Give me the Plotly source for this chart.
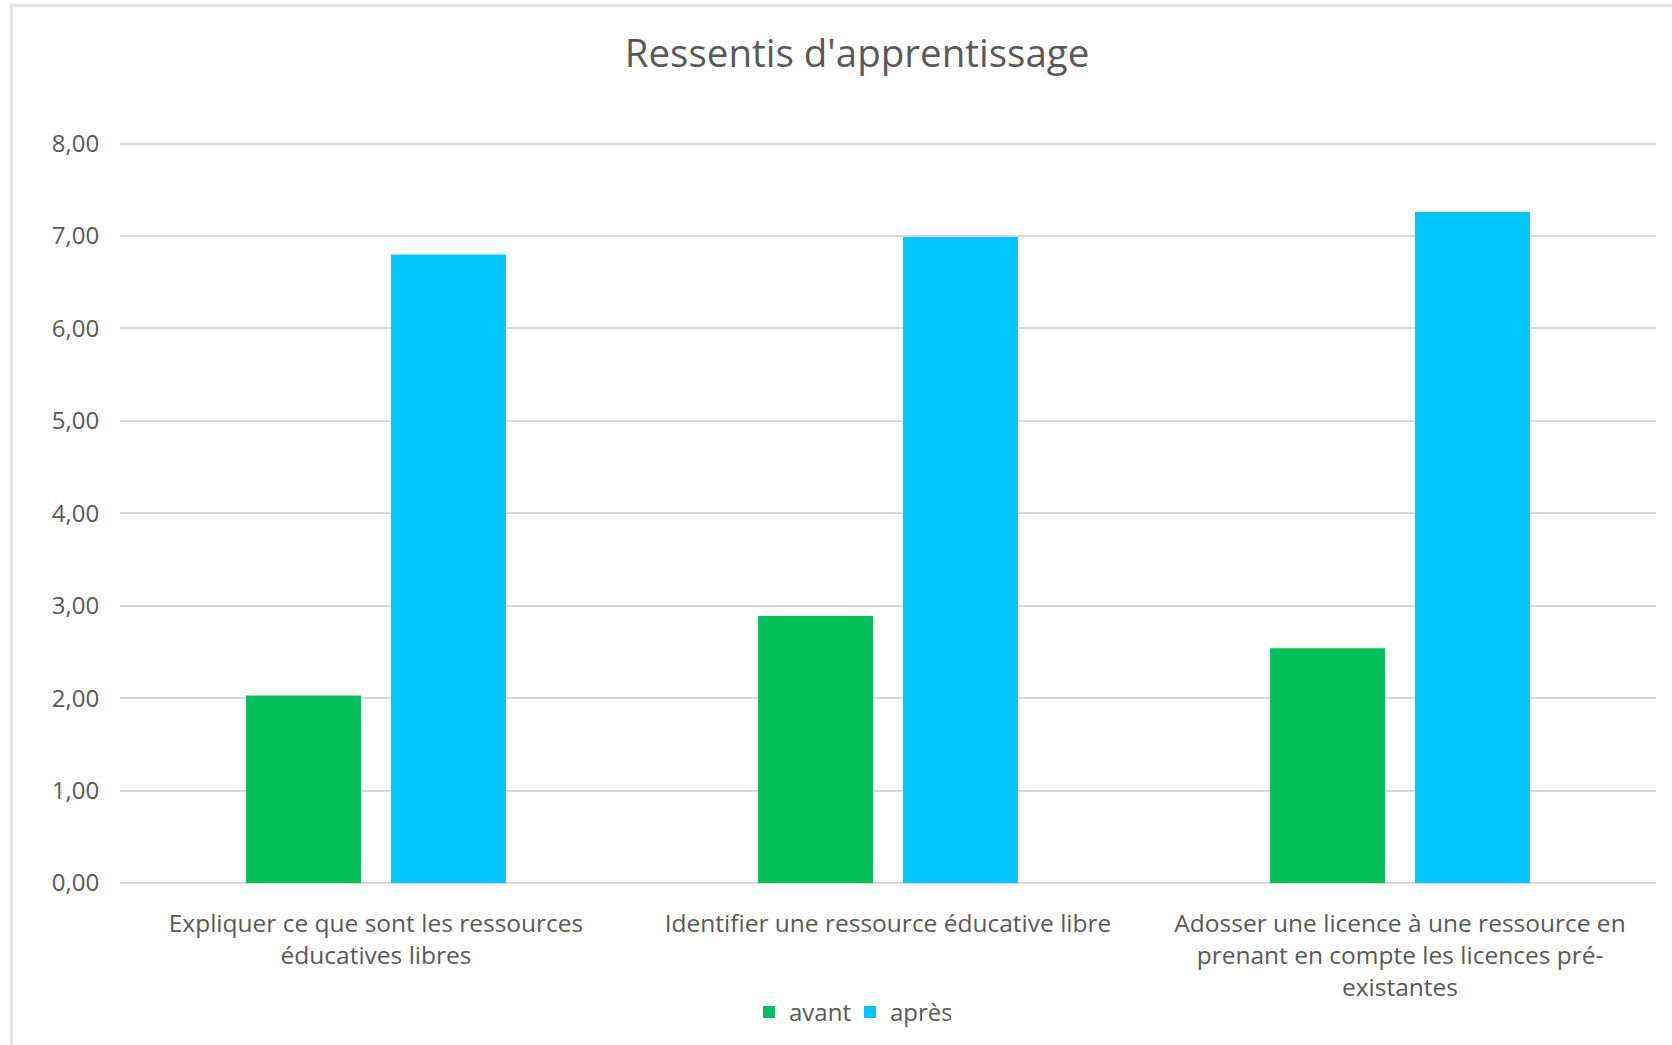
import plotly.graph_objects as go

categories = [
    "Expliquer ce que sont les ressources<br>éducatives libres",
    "Identifier une ressource éducative libre",
    "Adosser une licence à une ressource en<br>prenant en compte les licences pré-<br>existantes",
]
avant = [2.03, 2.89, 2.54]
apres = [6.80, 6.99, 7.26]
series_names = ["avant", "après"]
tick_values = [0, 1, 2, 3, 4, 5, 6, 7, 8]
tick_labels = ["0,00", "1,00", "2,00", "3,00", "4,00", "5,00", "6,00", "7,00", "8,00"]
title_text = "Ressentis d'apprentissage"

W, H = 1672, 1045
Y_MAX = 8.05
UNIT = 92.4
ML, MR = 120, 16
MB = H - 882.7
MT = H - MB - Y_MAX * UNIT
PW, PH = W - ML - MR, H - MT - MB

GREEN = "#03C05B"
BLUE = "#00C5FF"
TEXT = "#595959"
GRID = "#D9D9D9"
FONT = "'Open Sans', Lato, sans-serif"

fig = go.Figure()
fig.add_trace(go.Bar(x=categories, y=avant, name=series_names[0], marker=dict(color=GREEN, line=dict(width=0))))
fig.add_trace(go.Bar(x=categories, y=apres, name=series_names[1], marker=dict(color=BLUE, line=dict(width=0))))

def px_x(p):
    return (p - ML) / PW

def px_y(p):
    return (H - MB - p) / PH

fig.update_layout(
    width=W, height=H,
    margin=dict(l=ML, r=MR, t=MT, b=MB, autoexpand=False),
    paper_bgcolor="white", plot_bgcolor="white",
    barmode="group", bargap=0.434, bargroupgap=0.207,
    font=dict(family=FONT, color=TEXT, size=24),
    title=dict(text=title_text, x=857 / W, xref="container", xanchor="center",
               y=1 - 54 / H, yref="container", yanchor="middle",
               font=dict(family=FONT, size=38.5, color=TEXT)),
    showlegend=True,
    legend=dict(orientation="h", x=px_x(749), xanchor="left", y=px_y(1012), yanchor="middle",
                font=dict(family=FONT, size=24, color=TEXT), itemwidth=30,
                entrywidth=56, entrywidthmode="pixels", traceorder="normal"),
    shapes=[dict(type="rect", xref="paper", yref="paper",
                 x0=px_x(11.5), x1=px_x(W + 20), y0=px_y(5.5), y1=px_y(H + 20),
                 line=dict(color="#E4E4E4", width=3.5), fillcolor="rgba(0,0,0,0)", layer="below")],
)

fig.update_xaxes(showgrid=False, showline=False, zeroline=False,
                 ticks="outside", ticklen=19, tickcolor="rgba(0,0,0,0)",
                 tickfont=dict(family=FONT, size=24.5, color=TEXT), tickangle=0)
fig.update_yaxes(range=[0, Y_MAX], tickvals=tick_values, ticktext=tick_labels,
                 showgrid=True, gridcolor=GRID, gridwidth=1.5,
                 zeroline=True, zerolinecolor=GRID, zerolinewidth=1.5,
                 showline=False, ticks="outside", ticklen=15, tickcolor="rgba(0,0,0,0)",
                 tickfont=dict(family=FONT, size=24, color=TEXT))

fig.write_html("out.html", config={"displayModeBar": False},
               post_script="document.body.style.margin='0';")
